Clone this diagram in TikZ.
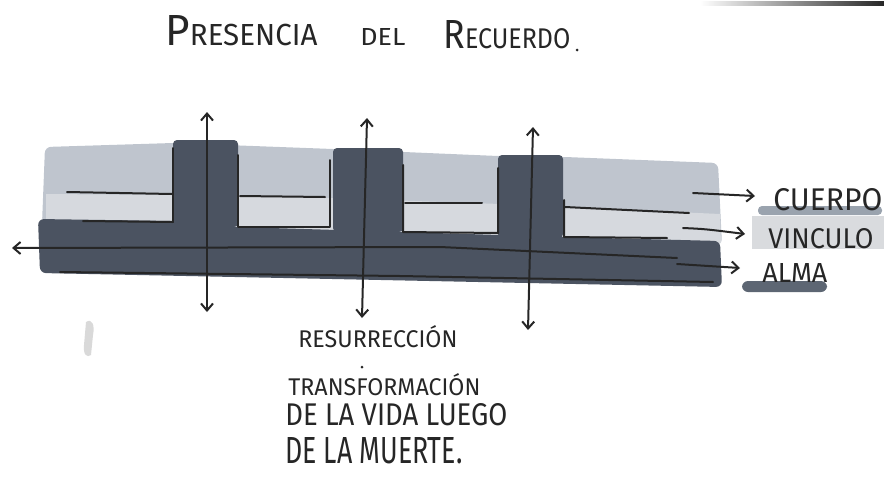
\documentclass[tikz,border=0pt]{standalone}
\usepackage{fontspec}
\setmainfont{Fira Sans}
\usepackage{graphicx}
\usetikzlibrary{arrows.meta}
\newdimen\pxu \pxu=0.5pt
\newcommand\hw[3]{\resizebox{#1\pxu}{#2\pxu}{#3}}
\definecolor{alma}{HTML}{4B5361}
\definecolor{cuerpo}{HTML}{BFC5CE}
\definecolor{vinc}{HTML}{D6D9DE}
\definecolor{swcu}{HTML}{9AA3AE}
\definecolor{swvi}{HTML}{D9DBDE}
\definecolor{swal}{HTML}{5D6673}
\begin{document}
\begin{tikzpicture}[x=0.5pt,y=-0.5pt,
  ink/.style={line width=1pt,black!85,line cap=round,line join=round},
  tip/.style={-{Straight Barb[length=3.5pt,width=6pt]}},
  both/.style={{Straight Barb[length=3.5pt,width=6pt]}-{Straight Barb[length=3.5pt,width=6pt]}},
  txt/.style={inner sep=0pt,anchor=base west,text=black!85}]
\useasboundingbox (0,0) rectangle (884,477);
% scan edge
\shade[left color=white,right color=black!85] (700,1) rectangle (884,5);
% smudge
\fill[black!15] (86,322) .. controls (92,318) and (95,325) .. (93,335) -- (91,355) .. controls (87,358) and (83,355) .. (84,345) -- cycle;
% bands
\fill[cuerpo, rounded corners=3] (45,147) -- (173,143) -- (333,149) -- (498,156) -- (565,157) -- (718,163) -- (722,245) -- (42,224) -- cycle;
\fill[vinc] (46,194) -- (172,195) -- (330,198) -- (500,204) -- (720,214) -- (721,243) -- (46,222) -- cycle;
\fill[alma, rounded corners=3] (38,219) -- (173,221) -- (238,227) -- (403,232) -- (563,237) -- (720,241) -- (722,287) -- (40,273) -- cycle;
\fill[alma, rounded corners=2] (173,140) rectangle (238,227);
\fill[alma, rounded corners=2] (333,148) rectangle (403,232);
\fill[alma, rounded corners=2] (498,155) rectangle (563,238);
% outlines
\draw[ink] (67,192) -- (172,194);
\draw[ink] (83,221) -- (173,222);
\draw[ink] (173,148) -- (173,222);
\draw[ink] (238,155) -- (238,227) -- (330,227) -- (330,160);
\draw[ink] (240,196) -- (325,197);
\draw[ink] (403,165) -- (403,232) -- (498,233) -- (498,168);
\draw[ink] (405,203) -- (482,203);
\draw[ink] (564,200) -- (564,237) -- (667,238);
\draw[ink] (565,207) -- (689,213);
\draw[ink] (60,272) -- (400,276) -- (713,282);
% swatches
\fill[swcu, rounded corners=2] (758,206) rectangle (882,215);
\fill[swvi] (752,216) rectangle (884,249);
\fill[swal, rounded corners=3] (742,281) rectangle (827,292);
% title
\node[txt] (t1) at (165,45) {\hw{152}{30}{\fontsize{20}{20}\selectfont P\fontsize{14}{14}\selectfont RESENCIA}};
\node[txt] (t2) at (360,45) {\hw{45}{17}{DEL}};
\node[txt] (t3) at (443,48) {\hw{127}{28}{\fontsize{20}{20}\selectfont R\fontsize{14}{14}\selectfont ECUERDO}};
\node[circle,fill=black!85,inner sep=0pt,minimum size=1.5pt] (t4) at (577,50) {};
% labels
\node[txt] (lcu) at (773,210) {\hw{109}{22}{CUERPO}};
\node[txt] (lvi) at (768,248) {\hw{105}{20}{VINCULO}};
\node[txt] (lal) at (762,282) {\hw{65}{19}{ALMA}};
% bottom text
\node[txt] (b1) at (298,347) {\hw{159}{22}{RESURRECCIÓN}};
\node[circle,fill=black!85,inner sep=0pt,minimum size=1.5pt] (dot) at (362,367) {};
\node[txt] (b2) at (288,395) {\hw{192}{22}{TRANSFORMACIÓN}};
\node[txt] (b3) at (285,425) {\hw{222}{22}{DE LA VIDA LUEGO}};
\node[txt] (b4) at (285,463) {\hw{177}{26}{DE LA MUERTE.}};
% arrows
\coordinate (a1t) at (207,112); \coordinate (a1b) at (207,312);
\coordinate (a2t) at (367,118); \coordinate (a2b) at (362,318);
\coordinate (a3t) at (533,127); \coordinate (a3b) at (528,330);
\draw[ink,both] (a1t) -- (a1b);
\draw[ink,both] (a2t) -- (a2b);
\draw[ink,both] (a3t) -- (a3b);
\coordinate (ls) at (677,258); \coordinate (le) at (12,248);
\draw[ink,tip] (ls) -- (440,247) -- (le);
\coordinate (cs) at (693,193); \coordinate (ce) at (755,196);
\coordinate (vs) at (683,228); \coordinate (ve) at (745,234);
\coordinate (as) at (677,264); \coordinate (ae) at (740,268);
\draw[ink,tip] (cs) -- (ce);
\draw[ink,tip] (vs) .. controls (705,229) .. (ve);
\draw[ink,tip] (as) -- (ae);
\end{tikzpicture}
\end{document}
